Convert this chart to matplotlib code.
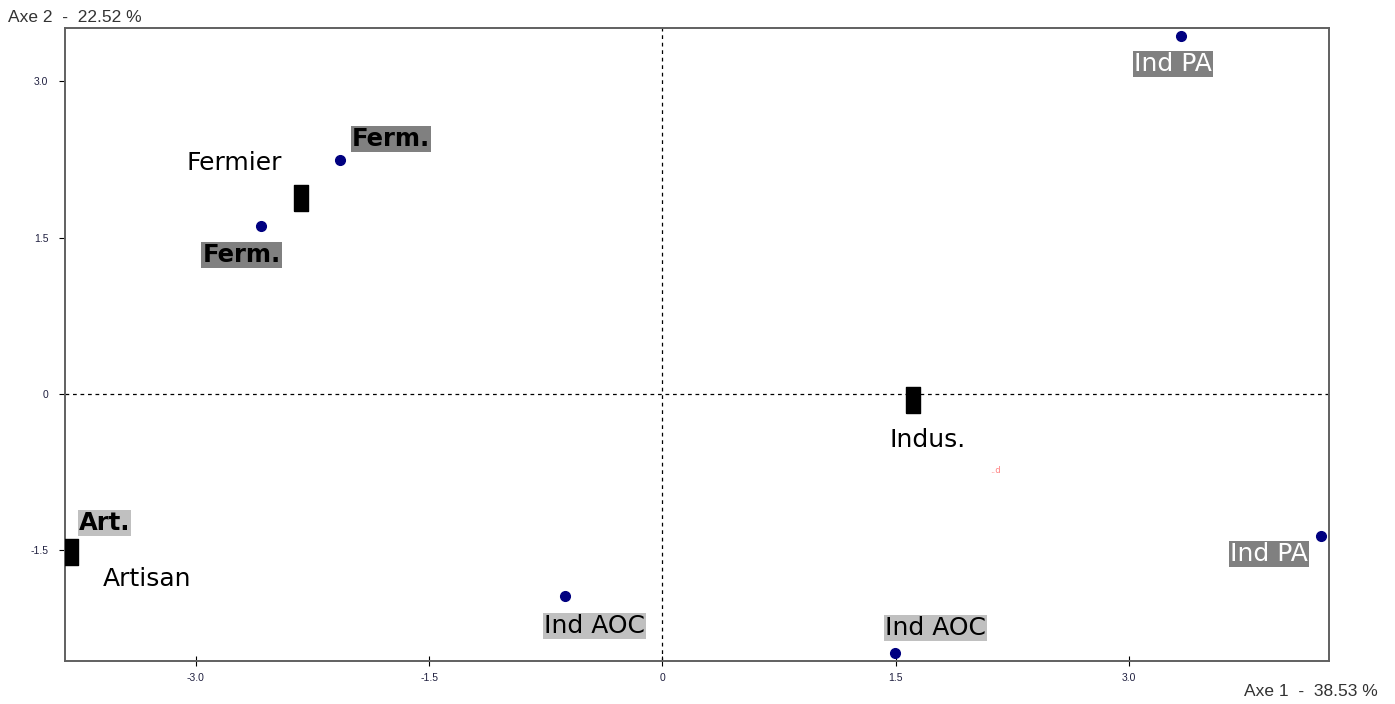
import matplotlib
matplotlib.use("Agg")
import matplotlib.pyplot as plt
import numpy as np

# Individuals (points)
ind_labels = ["Ind PA", "Ferm.", "Ferm.", "Ind AOC", "Ind AOC", "Ind PA"]
ind_x = [3.336, -2.07, -2.577, -0.623, 1.497, 4.235]
ind_y = [3.43, 2.24, 1.61, -1.937, -2.483, -1.361]

# Category centroids (rectangles)
cat_labels = ["Fermier", "Indus.", "Artisan"]
cat_x = [-2.326, 1.613, -3.80]
cat_y = [1.88, -0.058, -1.515]

# Extra supplementary label
art_label = "Art."

xticks = [-3.0, -1.5, 0, 1.5, 3.0]
xtick_labels = ["-3.0", "-1.5", "0", "1.5", "3.0"]
yticks = [3.0, 1.5, 0, -1.5]
ytick_labels = ["3.0", "1.5", "0", "-1.5"]

x_title = "Axe 1  -  38.53 %"
y_title = "Axe 2  -  22.52 %"

W, H = 1395, 704
fig = plt.figure(figsize=(W / 100, H / 100), dpi=100)
ax = fig.add_axes([65 / W, 1 - 661 / H, (1329 - 65) / W, (661 - 28) / H])
ax.set_xlim(-3.84, 4.285)
ax.set_ylim(-2.56, 3.51)

ax.axhline(0, color="black", lw=0.9, ls=(0, (3, 3)), zorder=1)
ax.axvline(0, color="black", lw=0.9, ls=(0, (3, 3)), zorder=1)

ax.plot(ind_x, ind_y, "o", color="#000080", ms=7, zorder=3, ls="none")

rect = [(-0.27, -0.5), (0.27, -0.5), (0.27, 0.5), (-0.27, 0.5), (-0.27, -0.5)]
ax.plot(cat_x, cat_y, marker=rect, color="black", ms=19, ls="none", zorder=3)

FS = 18
dark = "#808080"
light = "#c0c0c0"
# individual labels: (offset in points, face, text color, weight)
ind_styles = [
    ((-5.8, -20.0), dark, "white", "normal"),
    ((36.7, 15.1), dark, "black", "bold"),
    ((-14.4, -20.9), dark, "black", "bold"),
    ((20.9, -21.6), light, "black", "normal"),
    ((28.8, 18.0), light, "black", "normal"),
    ((-37.4, -13.0), dark, "white", "normal"),
]
for lab, x, y, (off, fc, tc, fw) in zip(ind_labels, ind_x, ind_y, ind_styles):
    fs = FS - 0.5 if fw == "bold" else FS
    ax.annotate(lab, (x, y), xytext=off, textcoords="offset points",
                ha="center", va="center", fontsize=fs, color=tc, fontweight=fw,
                bbox=dict(boxstyle="square,pad=0.04", fc=fc, ec="none"), zorder=4)

cat_offsets = [(-47.5, 25.2), (10.0, -28.8), (54.7, -19.4)]
for lab, x, y, off in zip(cat_labels, cat_x, cat_y, cat_offsets):
    ax.annotate(lab, (x, y), xytext=off, textcoords="offset points",
                ha="center", va="center", fontsize=FS, color="black", zorder=4)

ax.annotate(art_label, (cat_x[2], cat_y[2]), xytext=(23.8, 20.9), textcoords="offset points",
            ha="center", va="center", fontsize=FS - 0.5, color="black", fontweight="bold",
            bbox=dict(boxstyle="square,pad=0.04", fc=light, ec="none"), zorder=4)

# faint red artefact
ax.text(2.14, -0.73, "..d", color="#ff8080", fontsize=6, ha="center", va="center")

ax.set_xticks(xticks)
ax.set_xticklabels(xtick_labels)
ax.set_yticks(yticks)
ax.set_yticklabels(ytick_labels)
ax.tick_params(axis="x", direction="inout", length=7, width=0.8, color="black",
               labelsize=7.5, labelcolor="#202040", pad=5)
ax.tick_params(axis="y", direction="out", length=4, width=0.8, color="black",
               labelsize=7.5, labelcolor="#202040", pad=8)
for lab in ax.get_xticklabels() + ax.get_yticklabels():
    lab.set_family("Liberation Sans")
for s in ax.spines.values():
    s.set_color("#606060")
    s.set_linewidth(1.4)

fig.text(8 / W, 1 - 17 / H, y_title, fontsize=12.5, family="Liberation Sans",
         color="#333333", ha="left", va="center")
fig.text(1378 / W, 1 - 692 / H, x_title, fontsize=12.5, family="Liberation Sans",
         color="#333333", ha="right", va="center")

fig.savefig("out.png", dpi=100)
